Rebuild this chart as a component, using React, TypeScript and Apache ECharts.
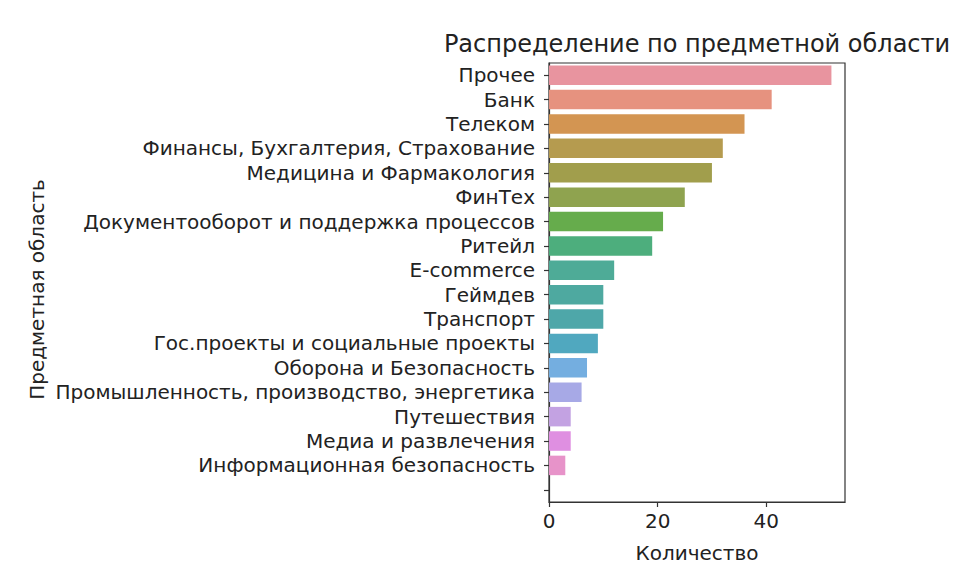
import React, { useEffect, useRef } from "react";
import * as echarts from "echarts";

const categories: string[] = [
  "Прочее",
  "Банк",
  "Телеком",
  "Финансы, Бухгалтерия, Страхование",
  "Медицина и Фармакология",
  "ФинТех",
  "Документооборот и поддержка процессов",
  "Ритейл",
  "E-commerce",
  "Геймдев",
  "Транспорт",
  "Гос.проекты и социальные проекты",
  "Оборона и Безопасность",
  "Промышленность, производство, энергетика",
  "Путешествия",
  "Медиа и развлечения",
  "Информационная безопасность",
  "",
];

const counts: (number | null)[] = [52, 41, 36, 32, 30, 25, 21, 19, 12, 10, 10, 9, 7, 6, 4, 4, 3, null];

const barColors: string[] = [
  "#e8949f",
  "#e6927f",
  "#d39552",
  "#b59b4f",
  "#a19e4c",
  "#8fa34f",
  "#66ac4c",
  "#4dae7d",
  "#4eab97",
  "#4ea9a0",
  "#4ea7a9",
  "#50a8bf",
  "#74aee0",
  "#a7a9e6",
  "#c3a2e2",
  "#df8fe1",
  "#e793c9",
];

const xTicks: number[] = [0, 20, 40];

const FONT = "DejaVu Sans";

export default function App() {
  const ref = useRef<HTMLDivElement>(null);

  useEffect(() => {
    if (!ref.current) return;
    const chart = echarts.init(ref.current, null, { renderer: "svg" });
    const left = 549;
    const right = 845;
    const top = 63;
    const bottom = 502;
    chart.setOption({
      animation: false,
      textStyle: { fontFamily: FONT },
      grid: {
        left: left,
        right: 980 - right,
        top: top,
        bottom: 578 - bottom,
        show: true,
        borderColor: "#333",
        borderWidth: 1.2,
        containLabel: false,
      },
      graphic: [
        {
          type: "text",
          x: (left + right) / 2,
          y: 44,
          style: {
            text: "Распределение по предметной области",
            fontFamily: FONT,
            fontSize: 24,
            fill: "#222",
            textAlign: "center",
            textVerticalAlign: "middle",
          },
        },
        {
          type: "text",
          x: 37,
          y: (top + bottom) / 2 + 7,
          rotation: Math.PI / 2,
          style: {
            text: "Предметная область",
            fontFamily: FONT,
            fontSize: 20,
            fill: "#222",
            textAlign: "center",
            textVerticalAlign: "middle",
          },
        },
        {
          type: "text",
          x: (left + right) / 2,
          y: 553,
          style: {
            text: "Количество",
            fontFamily: FONT,
            fontSize: 20,
            fill: "#222",
            textAlign: "center",
            textVerticalAlign: "middle",
          },
        },
      ],
      xAxis: {
        type: "value",
        min: 0,
        max: 54.5,
        interval: 20,
        splitLine: { show: false },
        axisLine: { show: true, lineStyle: { color: "#333", width: 1.2 } },
        axisTick: {
          show: true,
          length: 5,
          lineStyle: { color: "#333", width: 1.2 },
          customValues: xTicks,
        },
        axisLabel: {
          customValues: xTicks,
          fontFamily: FONT,
          fontSize: 20,
          color: "#222",
          margin: 9,
        },
      },
      yAxis: {
        type: "category",
        data: categories,
        inverse: true,
        axisLine: { show: true, lineStyle: { color: "#333", width: 1.2 } },
        axisTick: {
          show: true,
          alignWithLabel: true,
          length: 5,
          lineStyle: { color: "#333", width: 1.2 },
        },
        axisLabel: {
          fontFamily: FONT,
          fontSize: 20,
          color: "#222",
          margin: 14,
          interval: 0,
        },
      },
      series: [
        {
          type: "bar",
          data: counts.map((v, i) => ({
            value: v,
            itemStyle: { color: barColors[i % barColors.length] },
          })),
          barCategoryGap: "20%",
        },
      ],
    });
    return () => chart.dispose();
  }, []);

  return (
    <div
      ref={ref}
      style={{ position: "fixed", left: 0, top: 0, width: 980, height: 578, background: "#fff" }}
    />
  );
}
